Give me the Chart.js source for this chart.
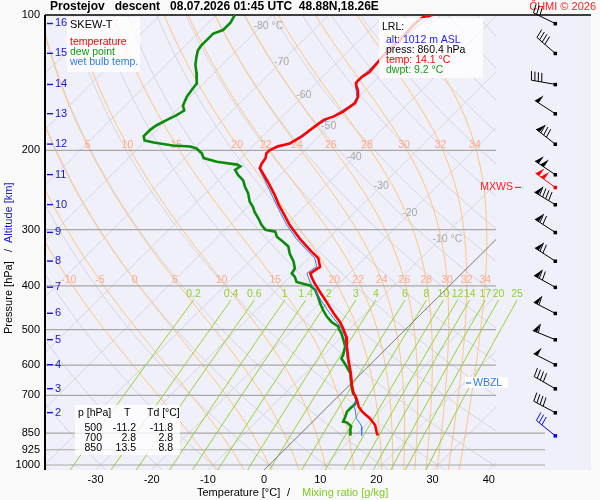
<!DOCTYPE html>
<html>
<head>
<meta charset="utf-8">
<title>Skew-T Prostejov</title>
<script src="https://cdn.jsdelivr.net/npm/chart.js@4.4.0/dist/chart.umd.min.js"></script>
<style>
  html, body { margin: 0; padding: 0; background: #fafafa; }
  #skewt { display: block; }
</style>
</head>
<body>
<canvas id="skewt" width="600" height="500"></canvas>
<script>
const FONT = '"Liberation Sans", Arial, Helvetica, sans-serif';
const P_BOT = 1026;   // pressure at the bottom edge
const SKEW = 35;      // deg C of shift per unit of ln(p)
const X_EDGE = 41.3;  // right edge of the thermodynamic part
const BARB_X = 51.8;  // column of the wind barbs

// sounding (descent)
const tempP = [100, 101, 105, 114, 120, 127, 134, 137, 141, 143, 147, 152, 157, 164, 168, 171, 180, 186, 193, 196,
  200, 203, 208, 214, 219, 225, 235, 243, 253, 264, 276, 293, 314, 333, 347, 363, 369, 375, 383, 395,
  412, 434, 460, 481, 497, 518, 545, 584, 625, 664, 693, 700, 717, 742, 761, 788, 815, 850, 860.4];
const tempT = [-51.5, -52.8, -53.1, -52.8, -53.1, -52.8, -52.5, -53.0, -53.0, -52.6, -51.3, -50.1, -49.5, -50.1, -50.9, -52.1, -52.7, -53.0, -53.9, -55.6,
  -56.3, -56.3, -55.6, -55.3, -54.8, -53.3, -50.9, -49.1, -47.0, -44.9, -42.5, -39.3, -35.1, -31.2, -28.3, -26.4, -26.7, -27.0, -26.0, -24.4,
  -22.0, -19.0, -15.7, -13.0, -11.3, -9.3, -7.4, -4.7, -1.9, 0.4, 2.2, 2.8, 4.0, 5.5, 7.0, 9.6, 11.7, 13.5, 14.1];

const dewP = [100, 104, 108, 110, 113, 117, 120, 124, 129, 134, 142, 146, 152, 159, 163, 167, 171, 176, 180, 186,
  190, 192, 195, 196, 198, 203, 208, 212, 215, 217, 221, 227, 233, 241, 249, 260, 267, 274, 283, 293,
  300, 303, 311, 319, 327, 339, 353, 366, 375, 382, 392, 399, 408, 423, 437, 453, 468, 481, 493, 500,
  510, 527, 545, 570, 580, 595, 625, 664, 693, 700, 717, 732, 748, 761, 781, 801, 805, 821, 837, 850, 860.4];
const dewT = [-86.7, -86.1, -86.1, -87.2, -87.2, -87.2, -86.9, -86.0, -84.8, -83.3, -81.2, -81.0, -80.6, -79.7, -78.6, -79.1, -80.0, -80.9, -81.2, -81.2,
  -80.3, -78.3, -74.4, -71.1, -69.6, -67.8, -66.6, -63.6, -59.5, -58.6, -58.9, -57.4, -55.6, -54.1, -52.4, -50.6, -49.1, -47.9, -46.1, -44.3,
  -42.8, -40.7, -39.5, -37.5, -35.7, -34.2, -32.1, -30.6, -30.3, -29.1, -27.9, -24.9, -23.2, -21.4, -19.9, -18.1, -16.3, -14.5, -12.4, -11.8,
  -10.7, -9.2, -7.7, -6.5, -6.2, -4.7, -2.0, 0.3, 2.1, 2.8, 3.9, 4.4, 4.3, 4.3, 4.9, 5.4, 6.3, 7.7, 8.2, 8.8, 9.2];

const wetP = [100, 114, 127, 137, 143, 152, 157, 168, 180, 193, 200, 208, 219, 225, 235, 253, 276, 293, 314, 333,
  347, 363, 369, 375, 383, 395, 412, 434, 460, 481, 497, 518, 545, 584, 625, 664, 700, 717, 736, 755,
  788, 808, 823, 860.4];
const wetT = [-51.6, -52.9, -52.9, -53.1, -52.7, -50.3, -49.7, -51.1, -52.8, -54.0, -56.4, -55.7, -55.0, -53.6, -51.3, -47.5, -43.0, -39.8, -35.7, -31.8,
  -28.9, -27.0, -27.4, -27.6, -26.6, -25.1, -22.7, -19.8, -16.4, -13.6, -11.6, -9.5, -7.6, -4.9, -2.0, 0.3, 2.8, 3.9, 4.3, 5.5,
  7.2, 8.7, 9.7, 11.2];

// axes and reference lines
const xTicks = [-30, -20, -10, 0, 10, 20, 30, 40];
const pTicks = [100, 200, 300, 400, 500, 600, 700, 850, 925, 1000];
const isobarsShort = [200, 300, 400, 500, 600, 700];
const isobarsLong = [850, 925, 1000];
const isoLabelT = [-80, -70, -60, -50, -40, -30, -20, -10];
const isoLabelP = [106, 127, 151, 177, 207, 240, 276, 315];
const moistThetaW = [-10, -5, 0, 5, 10, 15, 20, 22, 24, 26, 28, 30, 32, 34];
const mixRatios = [0.2, 0.4, 0.6, 1, 1.4, 2, 3, 4, 6, 8, 10, 12, 14, 17, 20, 25];

// altitude marks and winds
const altKm = [16, 15, 14, 13, 12, 11, 10, 9, 8, 7, 6, 5, 4, 3, 2];
const altP = [104.4, 121.6, 142.6, 165.6, 193.5, 226.2, 263.7, 304.0, 352.1, 402.5, 459.9, 526.3, 598.2, 676.4, 764.6];
const windSpd = [30, 40, 40, 50, 80, 100, 90, 70, 70, 70, 60, 60, 50, 40, 40];
const windDir = [296, 311, 280, 303, 308, 304, 301, 303, 303, 299, 297, 292, 297, 300, 298];
const mxwsP = 241.5, mxwsSpd = 100, mxwsDir = 306;
const wbzlP = 657;

// lowest reported level and the small table
const lrlAlt = 1012, lrlP = 860.4, lrlT = 14.1, lrlTd = 9.2, lrlSpd = 30, lrlDir = 309;
const tableP = [500, 700, 850];
const tableT = [-11.2, 2.8, 13.5];
const tableTd = [-11.8, 2.8, 8.8];

function skewX(t, p) { return t + SKEW * Math.log(P_BOT / p); }
function esat(tc) { return 6.112 * Math.exp(17.67 * tc / (tc + 243.5)); }
function dewFromE(e) { const l = Math.log(e / 6.112); return 243.5 * l / (17.67 - l); }
function levels(n, top) {
  const out = [];
  for (let i = 0; i <= n; i++) out.push(P_BOT * Math.pow(top / P_BOT, i / n));
  return out;
}

function moistCurve(thw) {
  const g = (lnp, T) => {
    const p = Math.exp(lnp), es = esat(T - 273.15), rs = 0.622 * es / (p - es);
    return (287.04 * T + 2.501e6 * rs) / (1005.7 + 2.501e6 * 2.501e6 * rs * 0.622 / (287.04 * T * T));
  };
  const T0 = thw + 273.15, h = -0.02;
  const pts = [[thw + g(Math.log(1000), T0) * Math.log(P_BOT / 1000), P_BOT], [thw, 1000]];
  let lnp = Math.log(1000), T = T0;
  while (lnp > Math.log(100)) {
    const k1 = g(lnp, T);
    const k2 = g(lnp + h / 2, T + h / 2 * k1);
    T += h * k2; lnp += h;
    pts.push([T - 273.15, Math.exp(lnp)]);
  }
  return pts;
}

function tempAt(pts, p) {
  for (let i = 1; i < pts.length; i++) {
    const [t0, p0] = pts[i - 1], [t1, p1] = pts[i];
    if ((p0 - p) * (p1 - p) <= 0) {
      const f = Math.log(p / p0) / Math.log(p1 / p0);
      return t0 + f * (t1 - t0);
    }
  }
  return pts[pts.length - 1][0];
}

function drawBarb(ctx, px, py, spd, dir, color) {
  const r = dir * Math.PI / 180;
  const ux = Math.sin(r), uy = -Math.cos(r);
  const nx = Math.cos(r), ny = Math.sin(r);
  const L = 24, B = 9;
  ctx.strokeStyle = color; ctx.fillStyle = color; ctx.lineWidth = 1;
  ctx.fillRect(px - 1.5, py - 1.5, 3.5, 3.5);
  const ex = px + ux * L, ey = py + uy * L;
  ctx.beginPath(); ctx.moveTo(px, py); ctx.lineTo(ex, ey); ctx.stroke();
  let s = 0, left = Math.round(spd / 5) * 5;
  while (left >= 50) {
    const ax = ex - ux * s, ay = ey - uy * s;
    const ix = ex - ux * (s + 4.5), iy = ey - uy * (s + 4.5);
    ctx.beginPath(); ctx.moveTo(ax, ay); ctx.lineTo(ix + nx * B, iy + ny * B); ctx.lineTo(ix, iy); ctx.closePath(); ctx.fill();
    s += 6; left -= 50;
  }
  while (left >= 10) {
    const ax = ex - ux * s, ay = ey - uy * s;
    ctx.beginPath(); ctx.moveTo(ax, ay); ctx.lineTo(ax + nx * B + ux * 1.5, ay + ny * B + uy * 1.5); ctx.stroke();
    s += 3.5; left -= 10;
  }
  if (left >= 5) {
    const ax = ex - ux * s, ay = ey - uy * s;
    ctx.beginPath(); ctx.moveTo(ax, ay); ctx.lineTo(ax + nx * B / 2, ay + ny * B / 2); ctx.stroke();
  }
}

const diagram = {
  id: 'diagram',
  beforeDatasetsDraw(chart) {
    const { ctx, chartArea: a, scales: { x, y } } = chart;
    const X = (t, p) => x.getPixelForValue(skewX(t, p));
    const Y = p => y.getPixelForValue(p);
    const curve = pts => {
      ctx.beginPath();
      pts.forEach(([t, p], i) => (i ? ctx.lineTo(X(t, p), Y(p)) : ctx.moveTo(X(t, p), Y(p))));
      ctx.stroke();
    };
    const xr = x.getPixelForValue(X_EDGE);
    const lv = levels(80, 100);

    ctx.save();
    ctx.fillStyle = '#f0f0fa';
    ctx.fillRect(a.left, a.top, a.right - a.left, a.bottom - a.top);

    // thermodynamic part
    ctx.save();
    ctx.beginPath(); ctx.rect(a.left, a.top, xr - a.left, a.bottom - a.top); ctx.clip();
    ctx.lineWidth = 1;
    ctx.strokeStyle = '#d6d6de';
    for (let t = -130; t <= 40; t += 10) curve([[t, P_BOT], [t, 100]]);
    for (let th = -40; th <= 200; th += 10) {
      curve(lv.map(p => [(th + 273.15) * Math.pow(p / 1000, 0.2857) - 273.15, p]));
    }
    ctx.strokeStyle = '#ffc680';
    const moist = moistThetaW.map(moistCurve);
    moist.forEach(curve);
    ctx.restore();

    // mixing ratio lines
    ctx.save();
    ctx.beginPath(); ctx.rect(a.left, a.top, a.right - a.left, a.bottom - a.top); ctx.clip();
    ctx.strokeStyle = '#98d230';
    ctx.lineWidth = 1;
    const mixLv = levels(20, 430);
    mixRatios.forEach(w => curve(mixLv.map(p => [dewFromE(w * p / (622 + w)), p])));
    ctx.restore();

    // isobars
    ctx.strokeStyle = '#a8a8a8';
    ctx.lineWidth = 1.2;
    isobarsShort.forEach(p => { ctx.beginPath(); ctx.moveTo(a.left, Y(p)); ctx.lineTo(xr, Y(p)); ctx.stroke(); });
    const xl = x.getPixelForValue(50);
    isobarsLong.forEach(p => { ctx.beginPath(); ctx.moveTo(a.left, Y(p)); ctx.lineTo(xl, Y(p)); ctx.stroke(); });

    // 0 degC isotherm
    ctx.save();
    ctx.beginPath(); ctx.rect(a.left, a.top, xr - a.left, a.bottom - a.top); ctx.clip();
    ctx.strokeStyle = '#6a6a6a';
    ctx.lineWidth = 0.8;
    curve([[0, P_BOT], [0, 100]]);
    ctx.restore();

    // labels of reference lines
    ctx.textBaseline = 'middle';
    ctx.font = '10.5px ' + FONT;
    ctx.fillStyle = '#a8a8a8';
    ctx.textAlign = 'left';
    isoLabelT.forEach((t, i) => {
      const s = String(t), w = ctx.measureText(s).width;
      const txt = (t === -80 || t === -10) ? s + ' °C' : s;
      ctx.fillText(txt, X(t, isoLabelP[i]) - w / 2, Y(isoLabelP[i]));
    });
    ctx.textAlign = 'center';
    ctx.fillStyle = '#ffa98c';
    moistThetaW.forEach((thw, i) => {
      ctx.fillText(String(thw), X(tempAt(moist[i], 388.5), 388.5), Y(388.5));
      if (thw >= 5) ctx.fillText(String(thw), X(tempAt(moist[i], 194.6), 194.6), Y(194.6));
    });
    ctx.fillStyle = '#90d028';
    mixRatios.forEach(w => {
      ctx.fillText(String(w), X(dewFromE(w * 430 / (622 + w)), 430), Y(417.5));
    });

    // frame
    ctx.strokeStyle = '#000';
    ctx.lineWidth = 2;
    ctx.beginPath(); ctx.moveTo(a.left, a.bottom); ctx.lineTo(a.left, a.top); ctx.stroke();
    ctx.lineWidth = 1.5;
    ctx.beginPath(); ctx.moveTo(a.left, a.top); ctx.lineTo(a.right, a.top); ctx.stroke();
    ctx.restore();
  },
  afterDatasetsDraw(chart) {
    const { ctx, chartArea: a, scales: { x, y } } = chart;
    const Y = p => y.getPixelForValue(p);
    ctx.save();
    ctx.textBaseline = 'middle';
    ctx.textAlign = 'left';

    // boxes
    ctx.fillStyle = 'rgba(255,255,255,0.78)';
    ctx.fillRect(67, 17, 73, 55);
    ctx.fillRect(379, 18, 104, 60);
    ctx.fillRect(75, 405, 105, 50);
    ctx.fillStyle = 'rgba(255,255,255,0.9)';
    ctx.fillRect(465, Y(wbzlP) - 6, 43, 11);

    ctx.font = '11px ' + FONT;
    ctx.fillStyle = '#000';
    ctx.fillText('SKEW-T', 70, 25);
    ctx.font = '10.5px ' + FONT;
    ctx.fillStyle = '#ff0000'; ctx.fillText('temperature', 70, 42);
    ctx.fillStyle = '#159a15'; ctx.fillText('dew point', 70, 52);
    ctx.fillStyle = '#2f78f0'; ctx.fillText('wet bulb temp.', 70, 62);

    ctx.fillStyle = '#000'; ctx.fillText('LRL:', 382, 27);
    ctx.fillStyle = '#1e1eee'; ctx.fillText('alt: ' + lrlAlt + ' m ASL', 386, 40);
    ctx.fillStyle = '#000'; ctx.fillText('press: ' + lrlP.toFixed(1) + ' hPa', 386, 50);
    ctx.fillStyle = '#ff0000'; ctx.fillText('temp: ' + lrlT.toFixed(1) + ' °C', 386, 60);
    ctx.fillStyle = '#159a15'; ctx.fillText('dwpt: ' + lrlTd.toFixed(1) + ' °C', 386, 70);

    ctx.fillStyle = '#000';
    ctx.fillText('p [hPa]', 78, 413);
    ctx.fillText('T', 124, 413);
    ctx.fillText('Td [°C]', 147, 413);
    ctx.textAlign = 'right';
    tableP.forEach((p, i) => {
      const yy = 428 + i * 10.2;
      ctx.fillText(String(p), 102, yy);
      ctx.fillText(tableT[i].toFixed(1), 136, yy);
      ctx.fillText(tableTd[i].toFixed(1), 173, yy);
    });

    // labels in the wind column
    ctx.fillStyle = '#2f78f0';
    ctx.textAlign = 'left';
    ctx.fillText('WBZL', 473, Y(wbzlP));
    ctx.fillRect(466, Y(wbzlP) - 0.5, 5, 1.2);
    ctx.fillStyle = '#ff2020';
    ctx.textAlign = 'right';
    ctx.fillText('MXWS', 513, Y(mxwsP));
    ctx.fillRect(515, Y(mxwsP) - 0.5, 6, 1.2);

    // altitude marks
    ctx.font = '11px ' + FONT;
    ctx.fillStyle = '#1414dc';
    ctx.textAlign = 'left';
    altKm.forEach((km, i) => {
      const yy = Y(altP[i]);
      ctx.fillRect(a.left + 2, yy - 0.6, 6, 1.4);
      ctx.fillText(String(km), a.left + 10, yy);
    });

    // titles
    ctx.font = 'bold 12px ' + FONT;
    ctx.fillStyle = '#000';
    ctx.fillText('Prostejov   descent   08.07.2026 01:45 UTC  48.88N,18.26E', 50, 7);
    ctx.font = '11px ' + FONT;
    ctx.fillStyle = '#ff2020';
    ctx.textAlign = 'right';
    ctx.fillText('ČHMI © 2026', 596, 7);

    ctx.textAlign = 'left';
    ctx.fillStyle = '#000';
    ctx.fillText('Temperature [°C]', 197, 493);
    ctx.fillText('/', 287, 493);
    ctx.fillStyle = '#7fcc1f';
    ctx.fillText('Mixing ratio [g/kg]', 302, 493);

    ctx.save();
    ctx.translate(9, 334);
    ctx.rotate(-Math.PI / 2);
    ctx.fillStyle = '#000';
    ctx.fillText('Pressure [hPa]', 0, 0);
    ctx.fillText('/', 82, 0);
    ctx.fillStyle = '#1414dc';
    ctx.fillText('Altitude [km]', 91, 0);
    ctx.restore();

    // wind barbs
    const bx = x.getPixelForValue(BARB_X);
    altP.forEach((p, i) => drawBarb(ctx, bx, Y(p), windSpd[i], windDir[i], '#000'));
    drawBarb(ctx, bx, Y(mxwsP), mxwsSpd, mxwsDir, '#ff0000');
    drawBarb(ctx, bx, Y(lrlP), lrlSpd, lrlDir, '#0000ff');
    ctx.restore();
  }
};

function profile(ps, ts) {
  return ps.map((p, i) => ({ x: skewX(ts[i], p), y: p }));
}

function initializeChart() {
  const ctx = document.getElementById('skewt').getContext('2d');
  new Chart(ctx, {
    type: 'scatter',
    data: {
      datasets: [
        { label: 'temperature', data: profile(tempP, tempT), borderColor: '#ff0000', borderWidth: 2.6 },
        { label: 'wet bulb temp.', data: profile(wetP, wetT), borderColor: '#2f78f0', borderWidth: 1 },
        { label: 'dew point', data: profile(dewP, dewT), borderColor: '#0a8c0a', borderWidth: 2.6 },
      ].map(d => Object.assign(d, { showLine: true, pointRadius: 0, tension: 0, fill: false })),
    },
    options: {
      responsive: false,
      animation: false,
      layout: { padding: { top: 15, right: 9, left: 0, bottom: 0 } },
      plugins: { legend: { display: false }, tooltip: { enabled: false }, title: { display: false } },
      scales: {
        x: {
          type: 'linear',
          min: -39,
          max: 58.2,
          grid: { display: false, drawTicks: false },
          border: { display: false },
          afterBuildTicks: s => { s.ticks = xTicks.map(v => ({ value: v })); },
          afterFit: s => { s.height = 30; },
          ticks: { padding: 3, color: '#000', font: { family: FONT, size: 11 }, autoSkip: false, maxRotation: 0 },
        },
        y: {
          type: 'logarithmic',
          reverse: true,
          min: 100,
          max: P_BOT,
          grid: { display: false, drawTicks: false },
          border: { display: false },
          afterBuildTicks: s => { s.ticks = pTicks.map(v => ({ value: v })); },
          afterFit: s => { s.width = 45; },
          ticks: {
            padding: 5,
            color: '#000',
            font: { family: FONT, size: 11 },
            autoSkip: false,
            callback: v => String(v),
          },
        },
      },
    },
    plugins: [diagram],
  });
}

if (document.readyState === 'loading') {
  document.addEventListener('DOMContentLoaded', initializeChart);
} else {
  initializeChart();
}
</script>
</body>
</html>
